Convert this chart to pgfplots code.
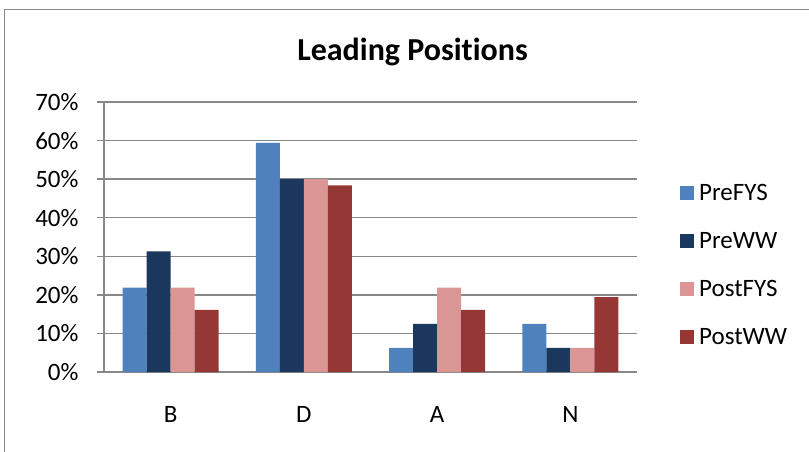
\documentclass[border=0pt]{standalone}
\usepackage{pgfplots}
\pgfplotsset{compat=1.18}
\usepackage{fontspec}
\setmainfont{Carlito}[Ligatures=NoCommon]
\definecolor{cPreFYS}{HTML}{4F81BD}
\definecolor{cPreWW}{HTML}{1B375E}
\definecolor{cPostFYS}{HTML}{D99694}
\definecolor{cPostWW}{HTML}{953735}
\definecolor{gridc}{HTML}{888888}
\begin{document}
\begin{tikzpicture}
\useasboundingbox (0,0) rectangle (809bp,452bp);
\draw[gridc, line width=1bp] (4bp,0) -- (4bp,442bp) -- (809bp,442bp);
\node[anchor=base, font=\fontsize{32bp}{36bp}\selectfont\bfseries] at (412.5bp,391bp) {Leading Positions};
\begin{axis}[
  at={(104bp,80bp)}, anchor=south west,
  scale only axis, width=533bp, height=270bp,
  ybar=0pt, bar width=24bp,
  xmin=-0.5, xmax=3.5, ymin=0, ymax=70,
  axis x line*=bottom, axis y line*=left,
  axis line style={gridc, line width=1.3bp, -},
  xtick={0,1,2,3}, xticklabels={B,D,A,N},
  x tick style={draw=none},
  extra x ticks={-0.5,0.5,1.5,2.5,3.5}, extra x tick labels={},
  extra x tick style={tick style={draw=gridc, line width=1.3bp}, major tick length=8bp, tick align=outside, grid=none},
  ytick={0,10,...,70},
  yticklabel={\pgfmathprintnumber{\tick}\%},
  y tick style={draw=gridc, line width=1.3bp},
  major tick length=7bp, tick align=outside,
  ymajorgrids, grid style={gridc, line width=1.3bp},
  /pgf/number format/assume math mode=true,
  tick label style={font=\fontsize{25bp}{29bp}\selectfont},
  yticklabel style={xshift=-15bp},
  xticklabel style={yshift=-24bp},
  legend style={at={(1.075,0.396)}, anchor=west, draw=none, fill=none,
    font=\fontsize{25bp}{29bp}\selectfont, row sep=26.5bp, column sep=3bp,
    legend cell align=left},
  legend image code/.code={\fill[#1,draw=none] (0bp,-7bp) rectangle (14bp,7bp);},
  every axis plot/.append style={draw=none},
  clip=false,
]
\addplot[fill=cPreFYS] coordinates {(0,21.9) (1,59.4) (2,6.25) (3,12.5)};
\addplot[fill=cPreWW] coordinates {(0,31.25) (1,50) (2,12.5) (3,6.25)};
\addplot[fill=cPostFYS] coordinates {(0,21.9) (1,50) (2,21.9) (3,6.25)};
\addplot[fill=cPostWW] coordinates {(0,16.1) (1,48.4) (2,16.1) (3,19.4)};
\legend{PreFYS,PreWW,PostFYS,PostWW}
\end{axis}
\end{tikzpicture}
\end{document}
